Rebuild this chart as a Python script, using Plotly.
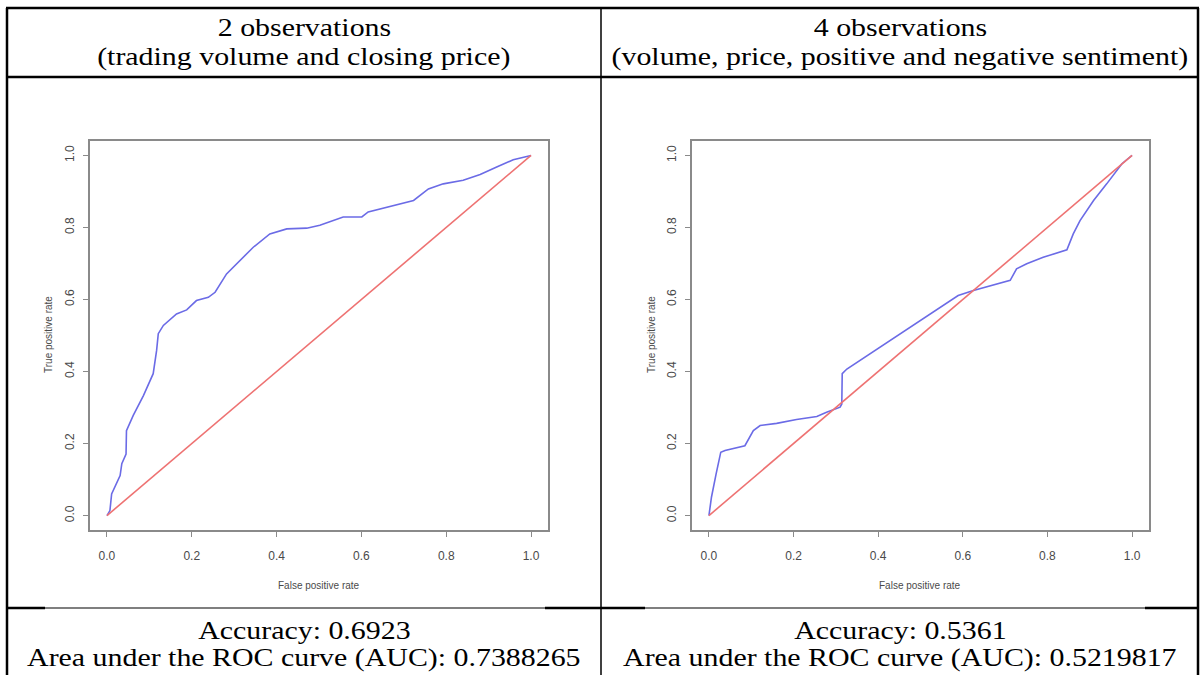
import plotly.graph_objects as go

# ---------------- data ----------------
fpr_2obs = [0, 0.007, 0.011, 0.019, 0.031, 0.035, 0.045, 0.046, 0.062, 0.086,
            0.109, 0.117, 0.121, 0.133, 0.164, 0.188, 0.211, 0.239, 0.255, 0.282,
            0.314, 0.345, 0.384, 0.424, 0.471, 0.502, 0.557, 0.601, 0.616, 0.667,
            0.723, 0.758, 0.793, 0.840, 0.880, 0.919, 0.958, 1.0]
tpr_2obs = [0, 0.014, 0.06, 0.079, 0.111, 0.144, 0.171, 0.236, 0.278, 0.333,
            0.394, 0.458, 0.505, 0.528, 0.560, 0.571, 0.597, 0.606, 0.620, 0.671,
            0.708, 0.745, 0.782, 0.796, 0.798, 0.806, 0.829, 0.829, 0.843, 0.858,
            0.875, 0.907, 0.921, 0.931, 0.947, 0.968, 0.988, 1.0]

fpr_4obs = [0, 0.006, 0.017, 0.028, 0.038, 0.065, 0.085, 0.105, 0.121, 0.160,
            0.207, 0.255, 0.278, 0.310, 0.314, 0.315, 0.326, 0.589, 0.625, 0.712,
            0.727, 0.751, 0.790, 0.846, 0.861, 0.877, 0.909, 0.940, 0.976, 1.0]
tpr_4obs = [0, 0.051, 0.116, 0.176, 0.181, 0.188, 0.194, 0.236, 0.250, 0.256,
            0.267, 0.275, 0.287, 0.301, 0.310, 0.394, 0.407, 0.611, 0.625, 0.653,
            0.685, 0.699, 0.717, 0.738, 0.782, 0.819, 0.875, 0.921, 0.977, 1.0]

diag_x = [0, 1]
diag_y = [0, 1]

tick_vals = [0.0, 0.2, 0.4, 0.6, 0.8, 1.0]
tick_text = ["0.0", "0.2", "0.4", "0.6", "0.8", "1.0"]

header_line1 = ["2 observations", "4 observations"]
header_line2 = ["(trading volume and closing price)",
                "(volume, price, positive and negative sentiment)"]
accuracy_text = ["Accuracy: 0.6923", "Accuracy: 0.5361"]
auc_text = ["Area under the ROC curve (AUC): 0.7388265",
            "Area under the ROC curve (AUC): 0.5219817"]
x_title = "False positive rate"
y_title = "True positive rate"

# ---------------- layout helpers ----------------
W, H = 1203, 675
def fx(px):
    return px / W
def fy(py):
    return 1 - py / H

BLUE = "#6b6be6"
RED = "#ee7272"
AXIS_GRAY = "#8a8a8a"
LABEL_GRAY = "#4a4a4a"
SERIF = "Liberation Serif, Times New Roman, serif"
SANS = "Liberation Sans Narrow, Arial Narrow, Liberation Sans, Arial, sans-serif"

fig = go.Figure()

panels = [
    dict(fpr=fpr_2obs, tpr=tpr_2obs, xa="x", ya="y"),
    dict(fpr=fpr_4obs, tpr=tpr_4obs, xa="x2", ya="y2"),
]
for p in panels:
    fig.add_trace(go.Scatter(x=p["fpr"], y=p["tpr"], mode="lines",
                             line=dict(color=BLUE, width=1.6),
                             xaxis=p["xa"], yaxis=p["ya"], hoverinfo="skip"))
    fig.add_trace(go.Scatter(x=diag_x, y=diag_y, mode="lines",
                             line=dict(color=RED, width=1.6),
                             xaxis=p["xa"], yaxis=p["ya"], hoverinfo="skip"))

box_top, box_bottom = 141, 530
ydom = [fy(box_bottom), fy(box_top)]

axis_common = dict(range=[-0.04, 1.04], showgrid=False, zeroline=False,
                   showline=True, mirror=True, linecolor=AXIS_GRAY, linewidth=1.8,
                   ticks="outside", ticklen=5, tickwidth=1.2, tickcolor=AXIS_GRAY,
                   tickvals=tick_vals, ticktext=tick_text,
                   tickfont=dict(family=SANS, size=12, color=LABEL_GRAY),
                   fixedrange=True)

fig.update_layout(
    width=W, height=H, autosize=False,
    margin=dict(l=0, r=0, t=0, b=0),
    paper_bgcolor="white", plot_bgcolor="white",
    showlegend=False,
    xaxis=dict(domain=[fx(90), fx(548)], anchor="y", ticklabelstandoff=9, **axis_common),
    yaxis=dict(domain=ydom, anchor="x", tickangle=-90, ticklabelstandoff=4, **axis_common),
    xaxis2=dict(domain=[fx(692), fx(1149)], anchor="y2", ticklabelstandoff=9, **axis_common),
    yaxis2=dict(domain=ydom, anchor="x2", tickangle=-90, ticklabelstandoff=4, **axis_common),
)

# ---------------- table borders ----------------
shapes = []
def hline(x0, x1, y, w):
    shapes.append(dict(type="line", xref="paper", yref="paper",
                       x0=fx(x0), x1=fx(x1), y0=fy(y), y1=fy(y),
                       line=dict(color="black", width=w)))
def vline(x, y0, y1, w):
    shapes.append(dict(type="line", xref="paper", yref="paper",
                       x0=fx(x), x1=fx(x), y0=fy(y0), y1=fy(y1),
                       line=dict(color="black", width=w)))

hline(6, 1199, 8, 2.5)      # top border
hline(6, 1199, 77, 2.5)     # header separator
hline(6, 1199, 608, 1.2)    # thin separator under plots
hline(6, 45, 608, 2.5)
hline(545, 645, 608, 2.5)
hline(1145, 1199, 608, 2.5)
vline(7, 8, 675, 2.5)       # left border
vline(601, 8, 675, 1.5)     # middle border
vline(1198, 8, 675, 2.5)    # right border
fig.update_layout(shapes=shapes)

# ---------------- texts ----------------
ann = []
cell_centers = [304, 900]
plot_centers = [319, 920]
ytitle_x = [49, 652]
def add_text(text, x, y, family, size, color="black", angle=0):
    ann.append(dict(text=text, x=fx(x), y=fy(y), xref="paper", yref="paper",
                    xanchor="center", yanchor="middle", showarrow=False,
                    textangle=angle, font=dict(family=family, size=size, color=color)))

for i in range(2):
    add_text(header_line1[i], cell_centers[i], 28, SERIF, 26)
    add_text(header_line2[i], cell_centers[i], 57, SERIF, 26)
    add_text(accuracy_text[i], cell_centers[i], 630, SERIF, 26)
    add_text(auc_text[i], cell_centers[i], 657, SERIF, 26)
    add_text(x_title, plot_centers[i], 585, SANS, 10, LABEL_GRAY)
    add_text(y_title, ytitle_x[i], 335, SANS, 10, LABEL_GRAY, angle=-90)
fig.update_layout(annotations=ann)

# the document text in the reference is rendered slightly wide (horizontally stretched)
post_js = """
var gd = document.getElementById('{plot_id}');
gd.querySelectorAll('text.annotation-text').forEach(function(t){
  var fs = parseFloat(t.style.fontSize);
  if (fs >= 20) {
    t.style.transformBox = 'fill-box';
    t.style.transformOrigin = 'center';
    t.style.transform = 'scaleX(1.15)';
  }
});
"""

fig.write_html("out.html", config={"displayModeBar": False}, post_script=post_js)
